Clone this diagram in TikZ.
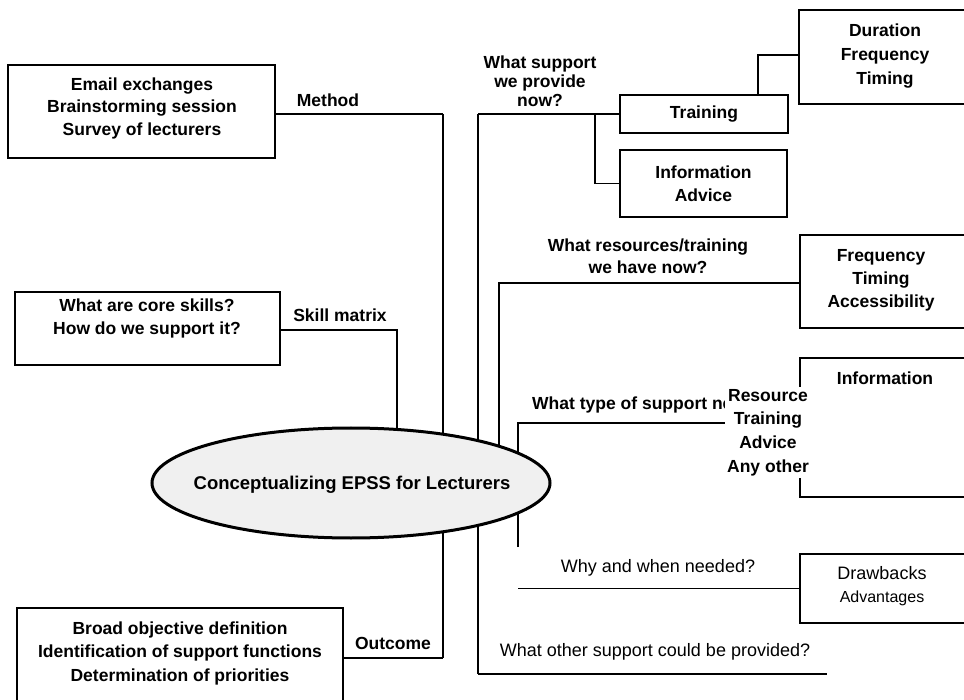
\documentclass[tikz,border=0pt]{standalone}
\usepackage{fontspec}
\setmainfont{Liberation Sans}
\usetikzlibrary{shapes.geometric}
\begin{document}
\begin{tikzpicture}[x=1pt,y=-1pt,
  frame/.style={draw,line width=1.6pt,inner sep=0pt},
  btxt/.style={font=\fontsize{17.5}{22.5}\selectfont\bfseries,align=center,inner sep=0pt},
  rtxt/.style={font=\fontsize{18}{23}\selectfont,align=center,inner sep=0pt},
  conn/.style={line width=1.6pt},
  trunk/.style={line width=2.8pt},
]
\clip (0,0) rectangle (964,700);
\fill[white] (0,0) rectangle (964,700);

% ---------- boxes ----------
\node[frame,minimum width=267,minimum height=93] (mbox) at (141.5,111.5) {};
\node[frame,minimum width=265,minimum height=73] (sbox) at (147.5,328.5) {};
\node[frame,minimum width=326,minimum height=112] (obox) at (180,664) {};
\node[frame,btxt,minimum width=168,minimum height=38] (tbox) at (704,114) {Training};
\node[frame,btxt,minimum width=167,minimum height=67] (ibox) at (703.5,183.5) {Information\\Advice};
\node[frame,minimum width=176,minimum height=94] (dbox) at (887,57) {};
\node[frame,minimum width=175,minimum height=93] (fbox) at (887.5,281.5) {};
\node[frame,minimum width=175,minimum height=139] (infobox) at (887.5,427.5) {};
\node[frame,minimum width=175,minimum height=69] (drbox) at (887.5,588.5) {};

% ---------- box texts ----------
\node[btxt] (mtxt) at (142,108) {Email exchanges\\Brainstorming session\\Survey of lecturers};
\node[btxt,font=\fontsize{17.5}{23}\selectfont\bfseries] (stxt) at (147,318) {What are core skills?\\How do we support it?};
\node[btxt,font=\fontsize{17.5}{23.5}\selectfont\bfseries] (otxt) at (180,653) {Broad objective definition\\Identification of support functions\\Determination of priorities};
\node[btxt,font=\fontsize{17.5}{24}\selectfont\bfseries] (dtxt) at (885,56) {Duration\\Frequency\\Timing};
\node[btxt,font=\fontsize{17.5}{23}\selectfont\bfseries] (ftxt) at (881,280) {Frequency\\Timing\\Accessibility};
\node[btxt] (infotxt) at (885,378) {Information};
\node[rtxt] (drtxt) at (882,586) {Drawbacks\\{\fontsize{16}{20}\selectfont Advantages}};

% ---------- connectors ----------
\coordinate (m1) at (443,114);
\coordinate (o1) at (443,658);
\coordinate (w1) at (478,114);
\coordinate (w2) at (478,674);
\coordinate (b1) at (595,114);
\coordinate (d1) at (758,55);
\coordinate (r1) at (499,283);
\coordinate (t1) at (518,423);
\coordinate (t2) at (518,547);
\coordinate (y1) at (518,588.5);
\coordinate (e1) at (827,674);
\coordinate (s1) at (397,330);

\draw[conn] (mbox.east |- m1) -- (m1);
\draw[trunk] (m1) -- (o1);
\draw[conn] (obox.east |- o1) -- (o1);
\draw[trunk] (w1) -- (w2);
\draw[conn] (w1) -- (tbox.west);
\draw[conn] (b1) |- (ibox.west);
\draw[conn] (tbox.north -| d1) -- (d1) -- (dbox.west |- d1);
\draw[conn] (499,470) -- (r1) -- (fbox.west |- r1);
\draw[conn] (t2) -- (t1) -- (infobox.west |- t1);
\draw[conn] (y1) -- (drbox.west);
\draw[conn] (w2) -- (e1);
\draw[conn] (sbox.east |- s1) -- (s1) -- (397,470);

% ---------- central ellipse ----------
\node[ellipse,draw,line width=3pt,fill=gray!12,minimum width=398,minimum height=110,inner sep=0pt] (core) at (351,483) {};
\node[btxt,font=\fontsize{18.5}{22}\selectfont\bfseries] (coretxt) at (352,485) {Conceptualizing EPSS for Lecturers};

% ---------- labels ----------
\node[btxt] (lmethod) at (328,100) {Method};
\node[btxt] (lskill) at (340,315) {Skill matrix};
\node[btxt] (lout) at (393,643) {Outcome};
\node[btxt,font=\fontsize{17.5}{19}\selectfont\bfseries] (lsupp) at (540,81) {What support\\we provide\\now?};
\node[btxt,font=\fontsize{17.5}{22}\selectfont\bfseries] (lres) at (648,256) {What resources/training\\we have now?};
\node[btxt,anchor=west] (ltype) at (532,405) {What type of support needed?};
\node[rtxt] (lwhy) at (658,568) {Why and when needed?};
\node[rtxt] (lother) at (655,652) {What other support could be provided?};
\node[btxt,font=\fontsize{17.5}{23.7}\selectfont\bfseries,fill=white,inner sep=2pt] (restxt) at (768,432.5) {Resource\\Training\\Advice\\Any other};
\end{tikzpicture}
\end{document}
